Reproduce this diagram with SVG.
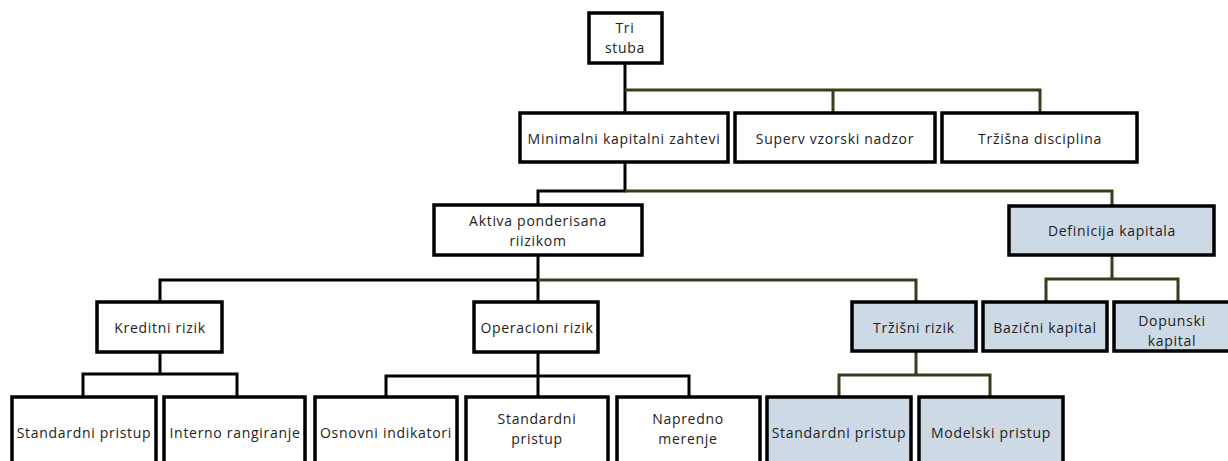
<svg xmlns="http://www.w3.org/2000/svg" width="1228" height="461" viewBox="0 0 1228 461">
<style>
.b{fill:#fff;stroke:#000;stroke-width:3.5}
.h{fill:#cdd9e5;stroke:#000;stroke-width:3.5}
.t{font-family:"Open Sans","Liberation Sans",sans-serif;font-size:14px;letter-spacing:0.7px;fill:#222;text-anchor:middle;dominant-baseline:central}
.k{fill:none;stroke:#000;stroke-width:3}
.o{fill:none;stroke:#3d3b1c;stroke-width:3}
</style>
<rect width="1228" height="461" fill="#fff"/>
<g id="connectors">
<path class="k" d="M625 63V113"/>
<path class="o" d="M625 90H1040V113M833 90V113"/>
<path class="k" d="M625 162V191H538V205"/>
<path class="o" d="M625 191H1112V206"/>
<path class="k" d="M538 255V302M538 280H160V302"/>
<path class="o" d="M538 280H916V302"/>
<path class="o" d="M1112 255V279M1046 302V279H1178V302"/>
<path class="k" d="M160 352V374M83 397V374H237V397"/>
<path class="k" d="M538 352V397M386 397V376H689V397"/>
<path class="o" d="M916 351V375M839 397V375H990V397"/>
</g>
<g id="n-tri"><rect class="b" x="589" y="13" width="73" height="50"/><text class="t" x="625" y="27">Tri</text><text class="t" x="625" y="47">stuba</text></g>
<g id="n-min"><rect class="b" x="520" y="113" width="208" height="49"/><text class="t" x="624" y="138">Minimalni kapitalni zahtevi</text></g>
<g id="n-sup"><rect class="b" x="735" y="113" width="200" height="49"/><text class="t" x="835" y="138">Superv vzorski nadzor</text></g>
<g id="n-trz"><rect class="b" x="942" y="113" width="195" height="49"/><text class="t" x="1040" y="138">Tržišna disciplina</text></g>
<g id="n-akt"><rect class="b" x="434" y="205" width="208" height="50"/><text class="t" x="538" y="220">Aktiva ponderisana</text><text class="t" x="538" y="240">riizikom</text></g>
<g id="n-def"><rect class="h" x="1009" y="206" width="205" height="49"/><text class="t" x="1112" y="230">Definicija kapitala</text></g>
<g id="n-kre"><rect class="b" x="97" y="302" width="125" height="50"/><text class="t" x="160" y="327">Kreditni rizik</text></g>
<g id="n-ope"><rect class="b" x="474" y="302" width="124" height="50"/><text class="t" x="537" y="327">Operacioni rizik</text></g>
<g id="n-trr"><rect class="h" x="852" y="302" width="124" height="49"/><text class="t" x="914" y="327">Tržišni rizik</text></g>
<g id="n-baz"><rect class="h" x="983" y="302" width="124" height="49"/><text class="t" x="1045" y="327">Bazični kapital</text></g>
<g id="n-dop"><rect class="h" x="1114" y="302" width="116" height="49"/><text class="t" x="1172" y="320">Dopunski</text><text class="t" x="1172" y="340">kapital</text></g>
<g id="n-std1"><rect class="b" x="12" y="397" width="144" height="80"/><text class="t" x="84" y="432">Standardni pristup</text></g>
<g id="n-int"><rect class="b" x="164" y="397" width="141" height="80"/><text class="t" x="235" y="432">Interno rangiranje</text></g>
<g id="n-osn"><rect class="b" x="315" y="397" width="142" height="80"/><text class="t" x="386" y="432">Osnovni indikatori</text></g>
<g id="n-std2"><rect class="b" x="466" y="397" width="142" height="80"/><text class="t" x="537" y="418">Standardni</text><text class="t" x="537" y="438">pristup</text></g>
<g id="n-nap"><rect class="b" x="617" y="397" width="143" height="80"/><text class="t" x="688" y="418">Napredno</text><text class="t" x="688" y="438">merenje</text></g>
<g id="n-std3"><rect class="h" x="767" y="397" width="144" height="80"/><text class="t" x="839" y="432">Standardni pristup</text></g>
<g id="n-mod"><rect class="h" x="919" y="397" width="144" height="80"/><text class="t" x="991" y="432">Modelski pristup</text></g>
</svg>
